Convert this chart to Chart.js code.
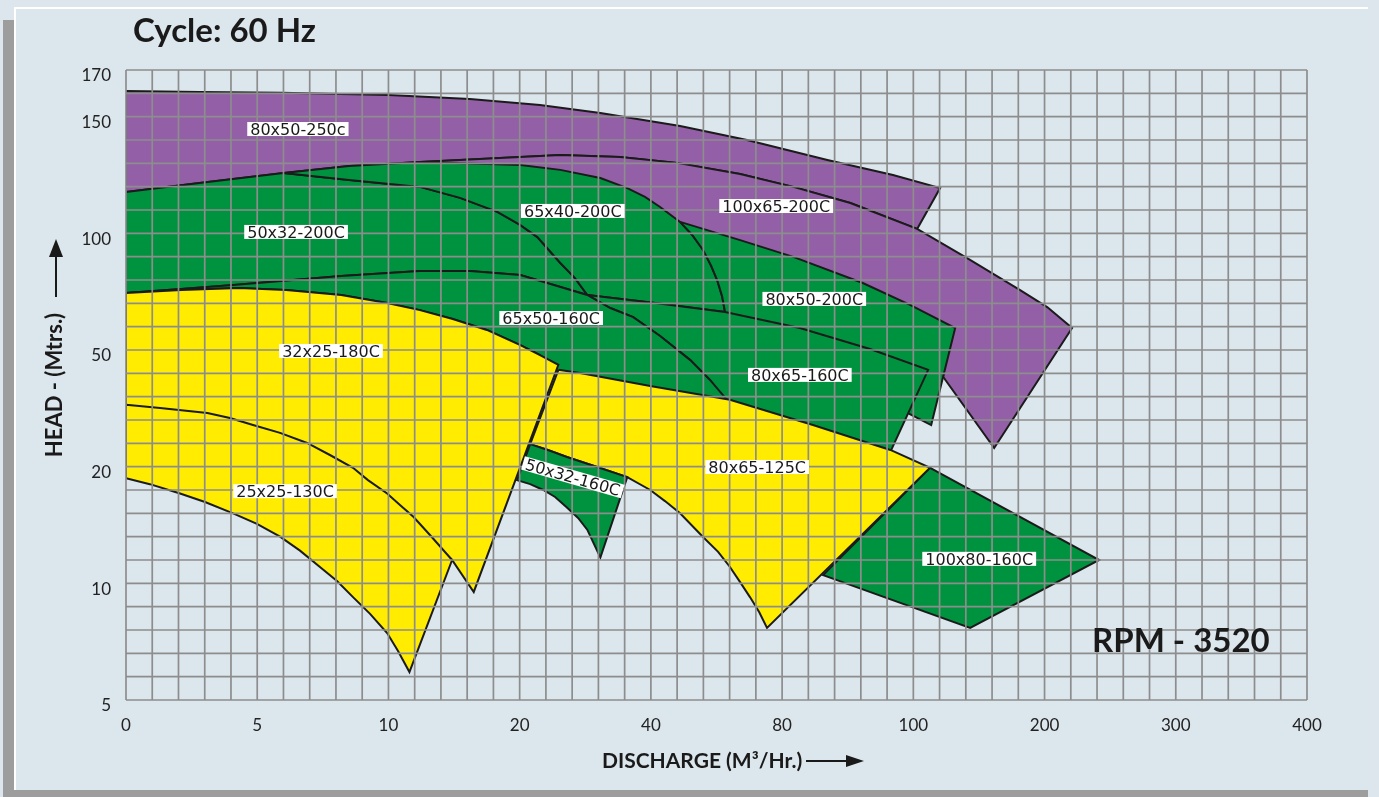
<!DOCTYPE html>
<html><head><meta charset="utf-8">
<script src="https://cdn.jsdelivr.net/npm/chart.js@4.4.1/dist/chart.umd.min.js"></script>
<style>
html,body{margin:0;padding:0;background:#dde6ec;width:1379px;height:797px;overflow:hidden;position:relative}
#shadowL{position:absolute;left:3px;top:20px;width:11px;height:777px;background:#9d9d9d}
#shadowB{position:absolute;left:3px;top:790px;width:1365px;height:7px;background:#9d9d9d}
#panel{position:absolute;left:14px;top:7px;width:1354px;height:783px;background:#dce6ed;border-top:2px solid #fff;border-left:2px solid #fff;box-sizing:border-box}
#wrap{position:absolute;left:0;top:0;width:1379px;height:797px}
</style></head><body>
<div id="shadowL"></div><div id="shadowB"></div><div id="panel"></div>
<div id="wrap"><canvas id="c" width="1379" height="797"></canvas></div>
<script>
// ---------- axis definition ----------
const xTickValues = [0, 5, 10, 20, 40, 80, 100, 200, 300, 400];   // discharge (m³/h) on the major gridlines
const yTickValues = [5, 10, 20, 50, 100, 150, 170];               // head (m) on the labelled gridlines
const yTickSteps  = [0, 5, 10, 15, 20, 25, 27];                   // minor-grid step of each head tick

// ---------- text ----------
const chartTitle = 'Cycle: 60 Hz';
const rpmNote = 'RPM - 3520';
const xTitle = 'DISCHARGE (M³/Hr.)';
const yTitle = 'HEAD - (Mtrs.)';

// ---------- pump coverage regions: [discharge m³/h, head m] ----------
const pump80x50_250c = [[0,161],[2.8,160.6],[5.9,160.2],[10,159.3],[16.2,157.6],[23.1,155],[32.3,151.6],[48.9,146],[69.3,140],[86.9,131.4],[96.9,125],[120.4,119.4],[102.9,101.9],[90.4,113],[81.7,119.9],[67.2,125.4],[48,130.2],[35.3,132.7],[26.2,133.6],[18.5,132.3],[12.4,130.6],[8.5,128.9],[6,125.9],[2.8,121.6],[0,117.7]];
const pump100x65_200C = [[12.4,130.6],[18.5,132.3],[26.2,133.6],[35.3,132.7],[48,130.2],[67.2,125.4],[81.7,119.9],[90.4,113],[102.9,101.9],[141,89.4],[181.4,75.7],[202,68.4],[221,59.4],[161.6,24.8],[122.7,43.1],[126.5,54.3],[91.9,73.6],[81.2,86.4],[45.9,103.6],[38.4,114.3],[26.2,125],[18.5,128],[12.4,130.2]];
const pump50x32_200C = [[0,117.7],[2.8,121.6],[6,125.9],[8.5,122.9],[12.4,119.9],[15.46,115.2],[18.3,109.2],[20.06,103.6],[22.7,98.4],[26.2,87.3],[28.4,80.9],[30.3,73.6],[20.1,82.1],[16.2,83.9],[12.4,83.9],[8.2,81.7],[4.1,77.9],[2.1,76.1],[0,74.4]];
const pump65x40_200C = [[6,125.9],[8.5,128.9],[12.4,130.6],[20.1,129.3],[26.2,127.2],[32.3,123.7],[36.4,119.4],[39.1,115.6],[42.8,111.3],[48.9,104.9],[52.6,99.3],[55.9,92.9],[58.4,86],[60.2,80],[61.7,73.1],[62.6,66.3],[41.3,70.1],[30.3,73.6],[28.4,80.9],[26.2,87.3],[22.7,98.4],[20.06,103.6],[18.3,109.2],[15.46,115.2],[12.4,119.9],[8.5,122.9]];
const pump80x50_200C = [[48.9,104.9],[67.2,97.1],[81.7,89.9],[92.3,78.7],[99.5,69.3],[131.9,59.4],[113.6,30.7],[99.1,33.8],[90.4,44.4],[73.3,56.4],[62.6,63.7],[62.6,66.3],[61.7,73.1],[60.2,80],[58.4,86],[55.9,92.9],[52.6,99.3]];
const pump80x65_160C = [[30.3,73.6],[41.3,70.1],[62.6,66.3],[82.7,59.4],[93.4,50.4],[111.3,44.9],[96.5,23.8],[84.7,29.9],[63.2,36.6],[58,42.3],[52,47.4],[42.8,56],[37.3,64.1],[33.8,68]];
const pump65x50_160C = [[0,74.4],[2.1,76.1],[4.1,77.9],[8.2,81.7],[12.4,83.9],[16.2,83.9],[20.1,82.1],[30.3,73.6],[33.8,68],[37.3,64.1],[42.8,56],[52,47.4],[58,42.3],[63.2,37.2],[63.2,36.6],[39.9,40.2],[29.2,43.6],[25.9,44.4],[23.1,48.7],[20.1,52.1],[17.5,58.6],[14.9,63.3],[12.4,67.1],[9.95,70.1],[8.2,73.6],[6.1,75.7],[4.3,76.6],[2.1,75.7],[0,74.4]];
const pump32x25_180C = [[0,74.4],[2.1,75.7],[4.3,76.6],[6.1,75.7],[8.2,73.6],[9.95,70.1],[12.4,67.1],[14.9,63.3],[17.5,58.6],[20.1,52.1],[23.1,48.7],[25.9,46.2],[16.5,9.63],[14.85,12],[10.9,16.1],[6.6,23.8],[2.8,31.5],[0,33.3]];
const pump25x25_130C = [[0,35.9],[1.3,35.1],[3.1,33.8],[3.96,32.5],[4.84,30.7],[5.87,28.7],[6.9,26.1],[7.77,23],[8.65,19.9],[9.22,18.85],[9.95,17.7],[10.9,16.7],[11.9,15.7],[13.3,13.97],[14.85,12],[11.6,6.2],[10.73,7.1],[9.95,7.87],[9.3,8.69],[8.65,9.41],[8.04,10.2],[7.39,11.4],[6.63,12.8],[5.87,14],[4.99,15.1],[4.08,16],[3.01,16.97],[2.06,17.7],[0.91,18.5],[0,19]];
const pump80x65_125C = [[25.9,44.9],[29.2,44.1],[39.9,40.75],[64.1,37.2],[84.7,30.7],[96.5,24.3],[112.8,19.9],[75.4,8.09],[73,8.77],[70.2,9.41],[67.2,10.1],[64.1,11.4],[60.5,12.7],[55.9,13.97],[48.9,16],[44.3,17.05],[39.9,18],[36.4,19.1],[31.8,19.97],[27.2,22.5],[24.3,24.3],[21.6,25.8]];
const pump50x32_160C = [[21.6,25.8],[24.3,24.3],[27.2,22.5],[31.8,19.97],[36.4,19.1],[32.3,12.2],[31.3,13.4],[30.3,14.6],[28.9,15.6],[27.2,16.5],[25.4,17.4],[23.6,18],[21.6,18.5],[19.8,18.85]];
const pump100x80_160C = [[112.8,19.9],[241.6,12],[143.3,8.09],[86.25,10.7]];

// ---------- region labels ----------
const labelNames = ['80x50-250c','50x32-200C','65x40-200C','100x65-200C','80x50-200C','65x50-160C','32x25-180C','80x65-160C','25x25-130C','80x65-125C','50x32-160C','100x80-160C'];
const labelQ     = [6.55, 6.48, 28.1, 78.2, 84.9, 24.8, 7.81, 82.7, 6.06, 72.4, 28.1, 150.2];
const labelH     = [144.7, 100.6, 109.6, 111.7, 71.9, 63.7, 49.75, 43.6, 17.9, 19.97, 19.1, 12.1];
const labelTilt  = [0,0,0,0,0,0,0,0,0,0,16,0];

const PURPLE = '#935fa6', GREEN = '#00933f', YELLOW = '#ffec00';
const regions = [
  {name:'80x50-250c', pts:pump80x50_250c, color:PURPLE},
  {name:'100x65-200C', pts:pump100x65_200C, color:PURPLE},
  {name:'50x32-200C', pts:pump50x32_200C, color:GREEN},
  {name:'65x40-200C', pts:pump65x40_200C, color:GREEN},
  {name:'80x50-200C', pts:pump80x50_200C, color:GREEN},
  {name:'80x65-160C', pts:pump80x65_160C, color:GREEN},
  {name:'65x50-160C', pts:pump65x50_160C, color:GREEN},
  {name:'32x25-180C', pts:pump32x25_180C, color:YELLOW},
  {name:'25x25-130C', pts:pump25x25_130C, color:YELLOW},
  {name:'80x65-125C', pts:pump80x65_125C, color:YELLOW},
  {name:'50x32-160C', pts:pump50x32_160C, color:GREEN},
  {name:'100x80-160C', pts:pump100x80_160C, color:GREEN}
];

// piecewise axis mapping (value -> grid step)
function interp(v, src, dst){
  for (let i = 0; i < src.length - 1; i++) {
    if (v <= src[i+1] || i === src.length - 2) {
      return dst[i] + (v - src[i]) * (dst[i+1] - dst[i]) / (src[i+1] - src[i]);
    }
  }
}
const xTickSteps = xTickValues.map((_, i) => i * 5);
const toX = q => interp(q, xTickValues, xTickSteps);
const toY = h => interp(h, yTickValues, yTickSteps);
const X_MAX = xTickSteps[xTickSteps.length - 1];
const Y_MAX = yTickSteps[yTickSteps.length - 1];

const datasets = regions.map((r, i) => ({
  label: r.name,
  data: r.pts.concat([r.pts[0]]).map(([q, h]) => ({x: toX(q), y: toY(h)})),
  showLine: true,
  fill: 'shape',
  backgroundColor: r.color,
  borderColor: '#1b1b1b',
  borderWidth: 2,
  borderJoinStyle: 'miter',
  pointRadius: 0,
  tension: 0,
  order: regions.length - i
}));

const gridAndLabels = {
  id: 'gridAndLabels',
  afterDatasetsDraw(chart) {
    const {ctx, chartArea: a, scales: {x, y}} = chart;
    ctx.save();
    ctx.strokeStyle = '#8d8d8d';
    ctx.lineWidth = 1.7;
    ctx.beginPath();
    for (let i = 0; i <= X_MAX; i++) { const p = x.getPixelForValue(i); ctx.moveTo(p, a.top); ctx.lineTo(p, a.bottom); }
    for (let j = 0; j <= Y_MAX; j++) { const p = y.getPixelForValue(j); ctx.moveTo(a.left, p); ctx.lineTo(a.right, p); }
    ctx.stroke();
    ctx.font = '16px "DejaVu Sans"';
    ctx.textAlign = 'center';
    ctx.textBaseline = 'alphabetic';
    labelNames.forEach((t, k) => {
      const px = x.getPixelForValue(toX(labelQ[k]));
      const py = y.getPixelForValue(toY(labelH[k]));
      const w = ctx.measureText(t).width + 6;
      ctx.save();
      ctx.translate(px, py);
      ctx.rotate(labelTilt[k] * Math.PI / 180);
      ctx.fillStyle = '#ffffff';
      ctx.fillRect(-w/2, -7, w, 14);
      ctx.fillStyle = '#1a1a1a';
      ctx.fillText(t, 0, 5.8);
      ctx.restore();
    });
    ctx.restore();
  }
};

const titles = {
  id: 'titles',
  afterDraw(chart) {
    const ctx = chart.ctx;
    ctx.save();
    ctx.fillStyle = '#1a1a1a';
    ctx.strokeStyle = '#1a1a1a';
    ctx.textBaseline = 'alphabetic';
    ctx.textAlign = 'left';
    ctx.font = 'bold 33px Lato';
    ctx.fillText(chartTitle, 133, 42);
    ctx.fillText(rpmNote, 1092, 652);
    ctx.font = 'bold 21px Lato';
    ctx.fillText(xTitle, 602, 768);
    ctx.lineWidth = 2;
    ctx.beginPath(); ctx.moveTo(806, 761); ctx.lineTo(850, 761); ctx.stroke();
    ctx.beginPath(); ctx.moveTo(864, 761); ctx.lineTo(846, 755); ctx.lineTo(846, 767); ctx.closePath(); ctx.fill();
    ctx.save();
    ctx.font = 'bold 22px Lato';
    ctx.translate(62, 385);
    ctx.rotate(-Math.PI / 2);
    ctx.textAlign = 'center';
    ctx.fillText(yTitle, 0, 0);
    ctx.restore();
    ctx.beginPath(); ctx.moveTo(56, 297); ctx.lineTo(56, 254); ctx.stroke();
    ctx.beginPath(); ctx.moveTo(56, 239); ctx.lineTo(49, 257); ctx.lineTo(63, 257); ctx.closePath(); ctx.fill();
    ctx.restore();
  }
};

new Chart(document.getElementById('c'), {
  type: 'scatter',
  data: {datasets},
  options: {
    responsive: false,
    animation: false,
    events: [],
    layout: {padding: {left: 0, top: 70, right: 72, bottom: 0}},
    plugins: {legend: {display: false}, tooltip: {enabled: false}, title: {display: false}},
    scales: {
      x: {
        type: 'linear', min: 0, max: X_MAX,
        afterBuildTicks: s => { s.ticks = xTickSteps.map(v => ({value: v})); },
        afterFit: s => { s.height = 97; },
        grid: {display: false, drawTicks: false},
        border: {display: false},
        ticks: {
          autoSkip: false, maxRotation: 0, padding: 15, color: '#222',
          font: {family: 'Lato', size: 17},
          callback: v => { const i = xTickSteps.indexOf(v); return i >= 0 ? String(xTickValues[i]) : ''; }
        }
      },
      y: {
        type: 'linear', min: 0, max: Y_MAX,
        afterBuildTicks: s => { s.ticks = yTickSteps.map(v => ({value: v})); },
        afterFit: s => { s.width = 126; },
        grid: {display: false, drawTicks: false},
        border: {display: false},
        ticks: {
          autoSkip: false, padding: 15, labelOffset: 6, color: '#222',
          font: {family: 'Lato', size: 17},
          callback: v => { const i = yTickSteps.indexOf(v); return i >= 0 ? String(yTickValues[i]) : ''; }
        }
      }
    }
  },
  plugins: [gridAndLabels, titles]
});
</script>
</body></html>
